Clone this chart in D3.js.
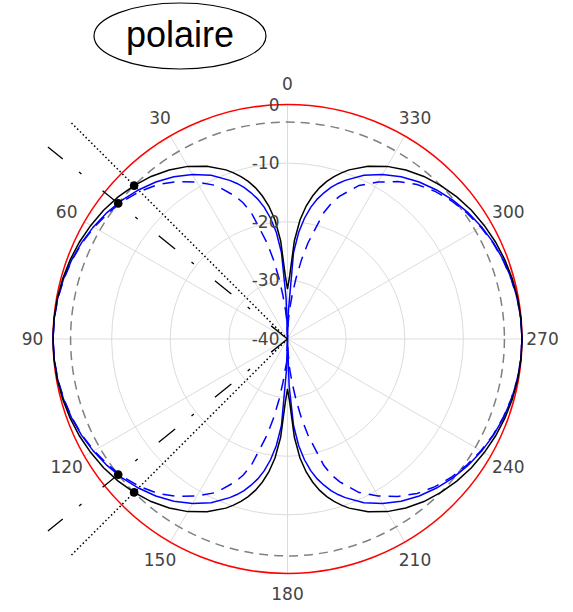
<!DOCTYPE html>
<html>
<head>
<meta charset="utf-8">
<script src="https://cdn.jsdelivr.net/npm/d3@7"></script>
<style>
  body { margin: 0; background: #fff; }
  svg { display: block; }
</style>
</head>
<body>
<div id="chart"></div>
<script>
// angles in degrees, 0 at top, counter-clockwise
var angles = [0,2,4,6,8,10,12,14,16,18,20,25,30,35,40,45,50,55,60,65,70,75,80,85,90,
  95,100,105,110,115,120,125,130,135,140,145,150,155,160,162,164,166,168,170,172,174,176,178,180,
  182,184,186,188,190,192,194,196,198,200,205,210,215,220,225,230,235,240,245,250,255,260,265,270,
  275,280,285,290,295,300,305,310,315,320,325,330,335,340,342,344,346,348,350,352,354,356,358,360];

// black solid (dB)
var blackDb = [-31.5,-29.2,-23.2,-19.6,-17.1,-15.2,-13.6,-12.3,-11.2,-10.2,-9.3,-7.5,-6.0,-4.8,-3.8,-3.0,-2.3,-1.7,-1.25,-0.85,-0.54,-0.3,-0.13,-0.03,0,
  -0.03,-0.13,-0.3,-0.54,-0.85,-1.25,-1.7,-2.3,-3.0,-3.8,-4.8,-6.0,-7.5,-9.3,-10.2,-11.2,-12.3,-13.6,-15.2,-17.1,-19.6,-23.2,-29.2,-31.5,
  -29.2,-23.2,-19.6,-17.1,-15.2,-13.6,-12.3,-11.2,-10.2,-9.3,-7.5,-6.0,-4.8,-3.8,-3.0,-2.3,-1.7,-1.25,-0.85,-0.54,-0.3,-0.13,-0.03,0,
  -0.03,-0.13,-0.3,-0.54,-0.85,-1.25,-1.7,-2.3,-3.0,-3.8,-4.8,-6.0,-7.5,-9.3,-10.2,-11.2,-12.3,-13.6,-15.2,-17.1,-19.6,-23.2,-29.2,-31.5];

// blue solid (dB)
var blueDb = [-40,-33,-25.2,-21.7,-19.2,-17.2,-15.6,-14.3,-13.1,-12.1,-11.2,-9.2,-7.6,-6.2,-5.05,-4.05,-3.17,-2.41,-1.76,-1.22,-0.78,-0.44,-0.19,-0.05,0,
  -0.05,-0.19,-0.44,-0.78,-1.22,-1.76,-2.41,-3.17,-4.05,-5.05,-6.2,-7.6,-9.2,-11.2,-12.1,-13.1,-14.3,-15.6,-17.2,-19.2,-21.7,-25.2,-34.5,-40,
  -32,-25.2,-21.7,-19.2,-17.2,-15.6,-14.3,-13.1,-12.1,-11.2,-9.2,-7.6,-6.2,-5.05,-4.05,-3.17,-2.41,-1.76,-1.22,-0.78,-0.44,-0.19,-0.05,0,
  -0.05,-0.19,-0.44,-0.78,-1.22,-1.76,-2.41,-3.17,-4.05,-5.05,-6.2,-7.6,-9.2,-11.2,-12.1,-13.1,-14.3,-15.6,-17.2,-19.2,-21.7,-25.2,-35,-40];

// blue dashed (dB)
var blueDashDb = [-40,-37,-35,-32.5,-29.5,-26.3,-23.3,-20.8,-17.6,-15.6,-14.1,-11.1,-9.1,-7.2,-5.6,-4.4,-3.4,-2.6,-1.9,-1.3,-0.85,-0.5,-0.22,-0.06,0,
  -0.06,-0.22,-0.5,-0.85,-1.3,-1.9,-2.6,-3.4,-4.4,-5.6,-7.2,-9.1,-11.1,-14.1,-15.6,-17.6,-20.8,-23.3,-26.3,-29.5,-32.5,-35,-36,-40,
  -38,-35,-32.5,-29.5,-26.3,-23.3,-20.8,-17.6,-15.6,-14.1,-11.1,-9.1,-7.2,-5.6,-4.4,-3.4,-2.6,-1.9,-1.3,-0.85,-0.5,-0.22,-0.06,0,
  -0.06,-0.22,-0.5,-0.85,-1.3,-1.9,-2.6,-3.4,-4.4,-5.6,-7.2,-9.1,-11.1,-14.1,-15.6,-17.6,-20.8,-23.3,-26.3,-29.5,-32.5,-35,-37.5,-40];

var refLevels = [0, -3];          // red circle, grey dashed circle
var gridLevels = [-10, -20, -30];
var radialTicks = [0, -10, -20, -30, -40];
var angleTicks = [0,30,60,90,120,150,180,210,240,270,300,330];
var dotAngles = [45, 135];        // -3 dB of black, dotted guide
var dashDotAngles = [51.3, 128.7];// -3 dB of blue, dash-dot guide
var title = "polaire";

var width = 573, height = 612,
    cx = 287.5, cy = 339,
    R = 234.5;

var r = d3.scaleLinear().domain([-40, 0]).range([0, R]).clamp(true);
var rad = function (a) { return a * Math.PI / 180; };
// screen position of (angle, radius)
function px(a, rr) { return cx - rr * Math.sin(rad(a)); }
function py(a, rr) { return cy - rr * Math.cos(rad(a)); }

var svg = d3.select('#chart').append('svg')
  .attr('width', width)
  .attr('height', height)
  .style('background', '#fff');

var g = svg.append('g').attr('transform', 'translate(' + cx + ',' + cy + ')');

// grid
g.selectAll('.spoke').data(angleTicks).enter().append('line')
  .attr('x1', 0).attr('y1', 0)
  .attr('x2', function (a) { return -R * Math.sin(rad(a)); })
  .attr('y2', function (a) { return -R * Math.cos(rad(a)); })
  .attr('stroke', '#dcdcdc').attr('stroke-width', 1);

g.selectAll('.ring').data(gridLevels).enter().append('circle')
  .attr('r', function (d) { return r(d); })
  .attr('fill', 'none').attr('stroke', '#dcdcdc').attr('stroke-width', 1);

// reference circles
g.append('circle').attr('r', r(refLevels[1]))
  .attr('fill', 'none').attr('stroke', '#808080').attr('stroke-width', 1.5)
  .attr('stroke-dasharray', '9,6');
g.append('circle').attr('r', r(refLevels[0]))
  .attr('fill', 'none').attr('stroke', '#ff0000').attr('stroke-width', 1.5);

var line = d3.lineRadial()
  .angle(function (d) { return -rad(d[0]); })
  .radius(function (d) { return r(d[1]); });

function series(vals) { return angles.map(function (a, i) { return [a, vals[i]]; }); }

g.append('path').datum(series(blueDashDb)).attr('d', line)
  .attr('fill', 'none').attr('stroke', '#0000ff').attr('stroke-width', 1.5)
  .attr('stroke-dasharray', '12,8');
g.append('path').datum(series(blueDb)).attr('d', line)
  .attr('fill', 'none').attr('stroke', '#0000ff').attr('stroke-width', 1.5);
g.append('path').datum(series(blackDb)).attr('d', line)
  .attr('fill', 'none').attr('stroke', '#000').attr('stroke-width', 1.5);

// guide lines from the centre
var guideLen = 308;
g.selectAll('.dotted').data(dotAngles).enter().append('line')
  .attr('x1', 0).attr('y1', 0)
  .attr('x2', function (a) { return -guideLen * Math.sin(rad(a)); })
  .attr('y2', function (a) { return -guideLen * Math.cos(rad(a)); })
  .attr('stroke', '#000').attr('stroke-width', 1.5).attr('stroke-dasharray', '1.5,2.5');
g.selectAll('.dashdot').data(dashDotAngles).enter().append('line')
  .attr('x1', 0).attr('y1', 0)
  .attr('x2', function (a) { return -(guideLen - 1) * Math.sin(rad(a)); })
  .attr('y2', function (a) { return -(guideLen - 1) * Math.cos(rad(a)); })
  .attr('stroke', '#000').attr('stroke-width', 1.3).attr('stroke-dasharray', '21,27,3,21');

// -3 dB markers
g.selectAll('.mark').data(dotAngles.concat(dashDotAngles)).enter().append('circle')
  .attr('cx', function (a) { return -r(-3) * Math.sin(rad(a)); })
  .attr('cy', function (a) { return -r(-3) * Math.cos(rad(a)); })
  .attr('r', 4.3).attr('fill', '#000');

// labels
svg.selectAll('.alab').data(angleTicks).enter().append('text')
  .attr('x', function (a) { return px(a, 255); })
  .attr('y', function (a) { return py(a, 255); })
  .attr('text-anchor', 'middle').attr('dominant-baseline', 'central')
  .style('font-family', 'DejaVu Sans').style('font-size', '17px').attr('fill', '#444')
  .text(function (a) { return a; });

svg.selectAll('.rlab').data(radialTicks).enter().append('text')
  .attr('x', cx - 8)
  .attr('y', function (d) { return cy - r(d); })
  .attr('text-anchor', 'end').attr('dominant-baseline', 'central')
  .style('font-family', 'DejaVu Sans').style('font-size', '17px').attr('fill', '#444')
  .text(function (d) { return d; });

// title
svg.append('ellipse').attr('cx', 180).attr('cy', 36).attr('rx', 86).attr('ry', 33)
  .attr('fill', 'none').attr('stroke', '#000').attr('stroke-width', 1.2);
svg.append('text').attr('x', 180).attr('y', 47)
  .attr('text-anchor', 'middle')
  .style('font-family', 'Liberation Sans, Arial, sans-serif').style('font-size', '36px')
  .text(title);
</script>
</body>
</html>
